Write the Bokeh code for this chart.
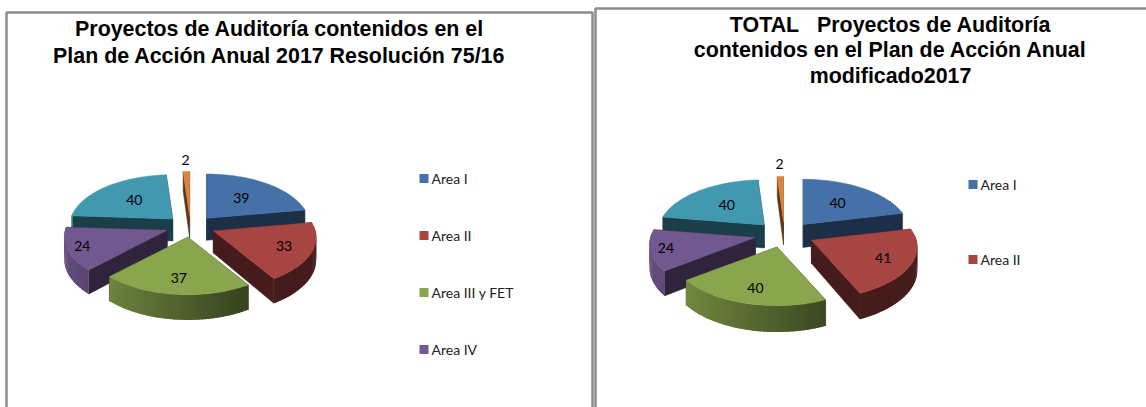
import math
from bokeh.plotting import figure
from bokeh.models import Range1d
from bokeh.embed import file_html
from bokeh.resources import INLINE
from bokeh.core.properties import value

categories_a = ["Area I", "Area II", "Area III y FET", "Area IV", "Area V", "Area VI"]
values_a = [39, 33, 37, 24, 40, 2]
values_b = [40, 41, 40, 24, 40, 2]
legend_a = ["Area I", "Area II", "Area III y FET", "Area IV"]
legend_b = ["Area I", "Area II"]
title_a = ["Proyectos de Auditoría contenidos en el", "Plan de Acción Anual 2017 Resolución 75/16"]
title_b = ["TOTAL\u00a0\u00a0\u00a0Proyectos de Auditoría", "contenidos en el Plan de Acción Anual", "modificado2017"]
colors = ["#4571a8", "#a64542", "#89a54e", "#71588f", "#4198af", "#db843d"]

W, H = 1146, 407
p = figure(width=W, height=H, x_range=Range1d(0, W), y_range=Range1d(H, 0),
           output_backend="svg", toolbar_location=None, min_border=0)
p.axis.visible = False
p.grid.visible = False
p.outline_line_color = None
p.background_fill_color = "white"


def shade(hex_c, f):
    r, g, b = (int(hex_c[i:i + 2], 16) for i in (1, 3, 5))
    return "#%02x%02x%02x" % (int(r * f), int(g * f), int(b * f))


def pie(vals, cx, cy, explode, rx, ry, k, depth, label_f):
    total = sum(vals)
    slices = []
    a = 0.0
    for i, v in enumerate(vals):
        sweep = 2 * math.pi * v / total
        slices.append((i, v, a, a + sweep))
        a += sweep
    order = sorted(slices, key=lambda s: -math.cos((s[2] + s[3]) / 2))

    def outer(ax, ay, t, extra=0.0):
        s = 1 / (1 + k * math.cos(t))
        return ax + rx * math.sin(t) * s, ay - ry * math.cos(t) * s + depth * s * extra

    labels = []
    for i, v, a0, a1 in order:
        mid = (a0 + a1) / 2
        ax = cx + explode * math.sin(mid)
        ay = cy - explode * 0.43 * math.cos(mid)
        n = max(3, int((a1 - a0) / 0.03))
        ts = [a0 + (a1 - a0) * j / n for j in range(n + 1)]
        base = colors[i]
        side = shade(base, 0.42)
        for t in (a0, a1):
            ox, oy = outer(ax, ay, t)
            ox2, oy2 = outer(ax, ay, t, 1)
            p.patch([ax, ox, ox2, ax], [ay, oy, oy2, ay + depth], fill_color=side, line_color=side, line_width=0.5)
        for j in range(n):
            t0, t1 = ts[j], ts[j + 1]
            tm = (t0 + t1) / 2
            if math.cos(tm) > 0.1:
                continue
            f = max(0.42, min(0.9, 0.57 - 0.33 * math.sin(tm)))
            c = shade(base, f)
            x0, y0 = outer(ax, ay, t0)
            x1, y1 = outer(ax, ay, min(t1 + 0.02, a1))
            x2, y2 = outer(ax, ay, min(t1 + 0.02, a1), 1)
            x3, y3 = outer(ax, ay, t0, 1)
            p.patch([x0, x1, x2, x3], [y0, y1, y2, y3], fill_color=c, line_color=None)
        xs = [ax] + [outer(ax, ay, t)[0] for t in ts]
        ys = [ay] + [outer(ax, ay, t)[1] for t in ts]
        p.patch(xs, ys, fill_color=base, line_color=base, line_width=0.5)
        s = 1 / (1 + k * math.cos(mid))
        lf = label_f[i]
        labels.append((ax + rx * math.sin(mid) * s * lf, ay - ry * math.cos(mid) * s * lf, str(v)))
    p.text([l[0] for l in labels], [l[1] for l in labels], text=[l[2] for l in labels],
           text_font=value("Lato"), text_font_size="14px", text_color="black",
           text_align="center", text_baseline="middle")


def titled(lines, x, y0, step, size):
    p.text([x] * len(lines), [y0 + step * i for i in range(len(lines))], text=lines,
           text_font=value("Liberation Sans"), text_font_style="bold", text_font_size=size,
           text_color="black", text_align="center", text_baseline="middle")


def legend(names, x, ys):
    for n, y, c in zip(names, ys, colors):
        p.rect([x + 4.5], [y], width=9, height=9, fill_color=c, line_color=None)
    p.text([x + 12] * len(names), ys, text=names, text_font=value("Lato"), text_font_size="14px",
           text_color="#222222", text_align="left", text_baseline="middle")


p.line([6, 6, 592, 592], [H, 12, 12, H], line_color="#8c8c8c", line_width=2.5)
p.line([595, 595, W], [H, 8, 8], line_color="#8c8c8c", line_width=2.5)

titled(title_a, 279, 28, 27, "21.4px")
titled(title_b, 890, 24, 25.5, "21.4px")
pie(values_a, 190, 226, 25, 102, 50, 0.13, 22, [0.58, 0.72, 0.72, 0.85, 0.58, 1.27])
pie(values_b, 784, 234, 30, 105, 51, 0.13, 23, [0.58, 0.72, 0.72, 0.85, 0.58, 1.27])
legend(legend_a, 419, [178, 235, 292, 349])
legend(legend_b, 968, [184, 259])

open("out.html", "w").write(file_html(p, INLINE))
